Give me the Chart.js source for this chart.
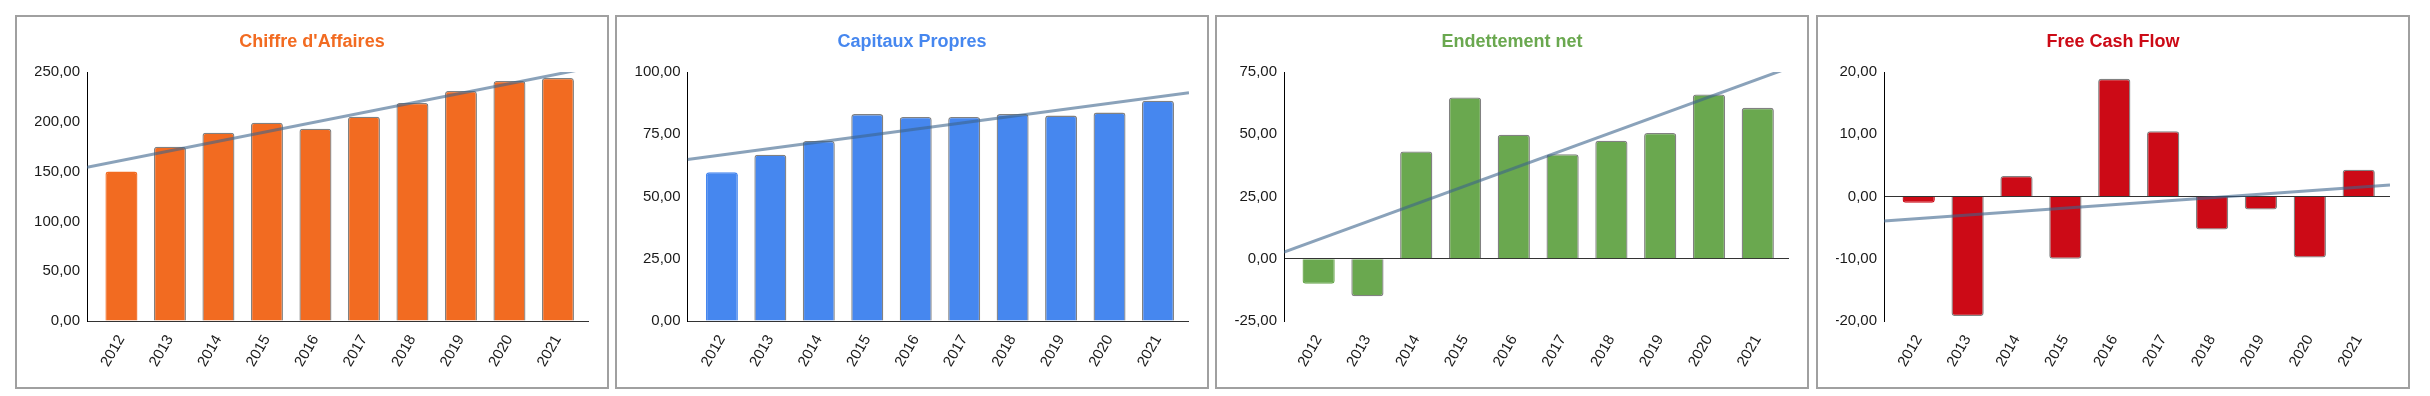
<!DOCTYPE html>
<html>
<head>
<meta charset="utf-8">
<script src="https://cdn.jsdelivr.net/npm/chart.js@4.4.0/dist/chart.umd.min.js"></script>
<style>
  body { margin: 0; background: #fff; width: 2430px; height: 396px; position: relative; overflow: hidden; }
  .panel { position: absolute; top: 15px; width: 594px; height: 374px; border: 2px solid #a0a0a0; box-sizing: border-box; background: #fff; }
  .panel canvas { display: block; }
</style>
</head>
<body>
<div class="panel" style="left:15px"><canvas id="chart1" width="590" height="370"></canvas></div>
<div class="panel" style="left:615px"><canvas id="chart2" width="590" height="370"></canvas></div>
<div class="panel" style="left:1215px"><canvas id="chart3" width="590" height="370"></canvas></div>
<div class="panel" style="left:1816px"><canvas id="chart4" width="590" height="370"></canvas></div>

<script>
const years = ['2012', '2013', '2014', '2015', '2016', '2017', '2018', '2019', '2020', '2021'];

const chiffreAffaires = [150, 175, 189, 199, 193, 205, 219, 231, 241, 244];
const capitauxPropres = [59.7, 66.8, 72.3, 83.1, 81.9, 81.9, 83.1, 82.5, 83.7, 88.5];
const endettementNet = [-10, -15.1, 43.1, 64.8, 49.8, 42, 47.4, 50.5, 66, 60.6];
const freeCashFlow = [-1, -19.2, 3.3, -10, 18.9, 10.5, -5.3, -2.1, -9.8, 4.3];

const ticksCA = [0, 50, 100, 150, 200, 250];
const ticksCP = [0, 25, 50, 75, 100];
const ticksEN = [-25, 0, 25, 50, 75];
const ticksFCF = [-20, -10, 0, 10, 20];

const X_MIN = -0.71;
const X_MAX = 9.64;
const SIDE = 18; // same padding both sides so the title stays centred on the panel

Chart.defaults.font.family = "'Liberation Sans', Arial, sans-serif";

// least squares trendline, like the sheet's linear trendline
function trend(values) {
    const n = values.length;
    const mx = (n - 1) / 2;
    const my = values.reduce((s, v) => s + v, 0) / n;
    let sxy = 0, sxx = 0;
    values.forEach((v, i) => { sxy += (i - mx) * (v - my); sxx += (i - mx) * (i - mx); });
    const b = sxy / sxx;
    const a = my - b * mx;
    return [{ x: X_MIN, y: a + b * X_MIN }, { x: X_MAX, y: a + b * X_MAX }];
}

function fmt(v) {
    return v.toFixed(2).replace('.', ',');
}

function makeChart(id, title, color, values, yTicks, axisWidth) {
    const ctx = document.getElementById(id).getContext('2d');
    new Chart(ctx, {
        type: 'bar',
        data: {
            datasets: [
                {
                    type: 'line',
                    data: trend(values),
                    borderColor: 'rgba(60, 100, 140, 0.6)',
                    borderWidth: 3,
                    pointRadius: 0,
                    clip: 0,
                    order: 0,
                },
                {
                    data: values.map((v, i) => ({ x: i, y: v })),
                    backgroundColor: color,
                    borderColor: values.map((v, i) => i === 0 ? color : 'rgba(115, 115, 115, 0.9)'),
                    borderWidth: 1.3,
                    borderRadius: 3,
                    barPercentage: 0.66,
                    categoryPercentage: 1,
                    order: 1,
                }
            ]
        },
        options: {
            responsive: false,
            animation: false,
            layout: { padding: { left: SIDE, right: SIDE, top: 0, bottom: 0 } },
            plugins: {
                legend: { display: false },
                tooltip: { enabled: false },
                title: {
                    display: true,
                    text: title,
                    color: color,
                    font: { size: 18, weight: 'bold' },
                    padding: { top: 14, bottom: 19.4 },
                },
            },
            scales: {
                x: {
                    type: 'linear',
                    offset: false,
                    min: X_MIN,
                    max: X_MAX,
                    grid: { display: false, drawTicks: false, offset: false },
                    border: { display: false },
                    afterBuildTicks: (s) => { s.ticks = years.map((y, i) => ({ value: i })); },
                    afterFit: (s) => { s.height = 66; },
                    ticks: {
                        autoSkip: false,
                        minRotation: 60,
                        maxRotation: 60,
                        padding: 11,
                        color: '#1a1a1a',
                        font: { size: 15 },
                        callback: (v) => years[v] ?? '',
                    },
                },
                y: {
                    min: yTicks[0],
                    max: yTicks[yTicks.length - 1],
                    afterBuildTicks: (s) => { s.ticks = yTicks.map(v => ({ value: v })); },
                    afterFit: (s) => { s.width = axisWidth - SIDE; },
                    border: { display: true, color: '#000', width: 1 },
                    grid: {
                        drawTicks: false,
                        lineWidth: 1,
                        color: (c) => (c.tick && c.tick.value === 0) ? '#333' : 'rgba(0,0,0,0)',
                    },
                    ticks: {
                        padding: 7,
                        color: '#1a1a1a',
                        font: { size: 15 },
                        callback: (v) => fmt(v),
                    },
                },
            },
        },
    });
}

makeChart('chart1', "Chiffre d'Affaires", '#f26b21', chiffreAffaires, ticksCA, 70);
makeChart('chart2', 'Capitaux Propres', '#4687ef', capitauxPropres, ticksCP, 70.5);
makeChart('chart3', 'Endettement net', '#6aa84f', endettementNet, ticksEN, 67);
makeChart('chart4', 'Free Cash Flow', '#cc0a16', freeCashFlow, ticksFCF, 66);
</script>
</body>
</html>
